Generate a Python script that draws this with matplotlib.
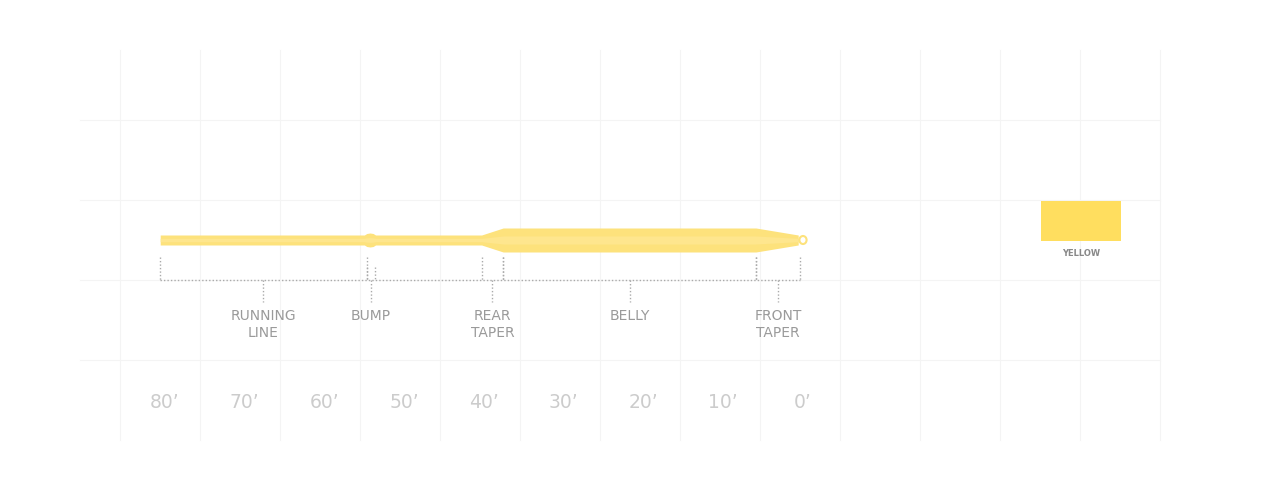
import matplotlib
matplotlib.use("Agg")
import matplotlib.pyplot as plt
import numpy as np

# profile (feet from tip, diameter in px)
prof_ft = [80.6, 55.0, 54.7, 54.3, 53.9, 53.6, 40.3, 37.6, 5.9, 0.6]
prof_d  = [10,   10,   13,   14,   13,   10,   10,   24,   24,  10]
sections = ["RUNNING\nLINE", "BUMP", "REAR\nTAPER", "BELLY", "FRONT\nTAPER"]
sec_bounds = [(80.6, 54.7), (54.7, 53.7), (40.3, 37.6), (37.6, 5.9), (5.9, 0.4)]
ticks = [80, 70, 60, 50, 40, 30, 20, 10, 0]
tick_labels = ["80\u2019", "70\u2019", "60\u2019", "50\u2019", "40\u2019", "30\u2019", "20\u2019", "10\u2019", "0\u2019"]
color_name = "YELLOW"
line_color = "#FDE27C"

px_per_ft = 7.975
x0 = 803
fig = plt.figure(figsize=(12.8, 4.8), dpi=100)
ax = fig.add_axes([0, 0, 1, 1])
ax.set_xlim(x0 / px_per_ft, (x0 - 1280) / px_per_ft)
ax.set_ylim(480, 0)
ax.axis("off")

# faint grid
for gx in range(120, 1161, 80):
    ax.axvline((x0 - gx) / px_per_ft, ymin=1 - 440 / 480, ymax=1 - 50 / 480, color="#f4f4f4", lw=0.8, zorder=0)
for gy in [120, 200, 280, 360]:
    ax.plot([(x0 - 80) / px_per_ft, (x0 - 1160) / px_per_ft], [gy, gy], color="#f4f4f4", lw=0.8, zorder=0)

yc = 240
ft = np.array(prof_ft); d = np.array(prof_d)
ax.fill_between(ft, yc - d / 2, yc + d / 2, color=line_color, lw=0, zorder=2)
ax.fill_between(ft, yc - d / 6, yc + d / 6, color="#FEE68E", lw=0, zorder=3)
# loop
ax.add_patch(matplotlib.patches.Ellipse((0.0, yc), 0.9, 8, fill=False, ec=line_color, lw=1.5, zorder=3))

dot = dict(color="#aaaaaa", lw=1, ls=(0, (1, 1.5)))
ax.plot([80.6, 0.4], [280, 280], **dot)
for a, b in sec_bounds:
    top = 267 if a - b < 2 else 257
    for v in (a, b):
        ax.plot([v, v], [top, 280], **dot)
for (a, b), name in zip(sec_bounds, sections):
    m = (a + b) / 2
    ax.plot([m, m], [280, 302], **dot)
    ax.text(m, 309, name, ha="center", va="top", fontsize=10, color="#9a9a9a",
            family="DejaVu Sans", linespacing=1.3)

for t, lab in zip(ticks, tick_labels):
    ax.text(t, 403, lab, ha="center", va="center", fontsize=13.5, color="#cccccc")

ax.add_patch(matplotlib.patches.Rectangle(((x0 - 1041) / px_per_ft, 201), -80 / px_per_ft, 40,
                                          color="#FFDE5F", lw=0))
ax.text((x0 - 1081) / px_per_ft, 254, color_name, ha="center", va="center", fontsize=6,
        color="#888888", weight="bold")

fig.savefig("out.png", dpi=100, facecolor="white")
